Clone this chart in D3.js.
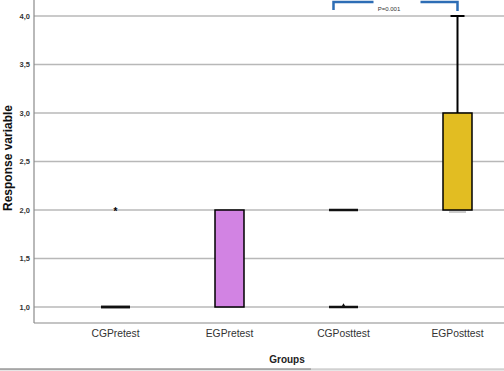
<!DOCTYPE html>
<html lang="en">
	<head>
		<meta charset="utf-8">
		<title>Boxplot groups</title>
		<script src="https://d3js.org/d3.v7.min.js"></script>
		<style>
			body { margin: 0; background: #fff; }
			svg { display: block; font-family: "Liberation Sans", Arial, sans-serif; }
		</style>
	</head>
	<body>
		<script type="text/javascript">

			// data
			var groups = ["CGPretest", "EGPretest", "CGPosttest", "EGPosttest"];
			var q1 = [1, 1, 1, 2];
			var median = [1, 1, 2, 2];
			var q3 = [1, 2, 2, 3];
			var whiskerHigh = [1, 2, 2, 4];
			var boxFill = [null, "#d283e3", null, "#e2bd22"];
			var extremes = [{g: "CGPretest", v: 2}];
			var outliers = [{g: "CGPosttest", v: 1}];
			var yTicks = [1.0, 1.5, 2.0, 2.5, 3.0, 3.5, 4.0];
			var pLabel = "P=0.001";

			var w = 504, h = 371;
			var left = 34, bottom = 323;

			var x = d3.scaleBand().domain(groups).range([58.5, 514.5]);
			var y = d3.scaleLinear().domain([1, 4]).range([307, 16]);
			var bw = 29;
			var cx = function(g) { return x(g) + x.bandwidth() / 2; };

			var svg = d3.select("body").append("svg").attr("width", w).attr("height", h);

			// grid lines
			svg.append("g").selectAll("line").data(yTicks).enter().append("line")
				.attr("x1", left).attr("x2", w)
				.attr("y1", function(d) { return y(d); })
				.attr("y2", function(d) { return y(d); })
				.attr("stroke", "#b8b8b8").attr("stroke-width", 1.5);

			// y axis
			var yAxis = d3.axisLeft(y).tickValues(yTicks).tickSize(0).tickPadding(4)
				.tickFormat(function(d) { return d3.format(".1f")(d).replace(".", ","); });
			var ya = svg.append("g").attr("transform", "translate(" + left + ",0)").call(yAxis);
			ya.select(".domain").remove();
			ya.selectAll("text").attr("font-size", 7.5).attr("font-weight", "bold")
				.attr("fill", "#333").attr("font-family", "'Liberation Sans Narrow', 'Liberation Sans', sans-serif");

			// x axis
			var xAxis = d3.axisBottom(x).tickSize(0).tickPadding(7);
			var xa = svg.append("g").attr("transform", "translate(0," + bottom + ")").call(xAxis);
			xa.select(".domain").remove();
			xa.selectAll("text").attr("font-size", 10.3).attr("fill", "#333");

			// frame lines
			svg.append("line").attr("x1", left).attr("x2", left).attr("y1", 0).attr("y2", bottom)
				.attr("stroke", "#8a8a8a").attr("stroke-width", 1.2);
			svg.append("line").attr("x1", left).attr("x2", w).attr("y1", bottom).attr("y2", bottom)
				.attr("stroke", "#8a8a8a").attr("stroke-width", 1.2);

			// titles
			svg.append("text").attr("transform", "translate(12,158) rotate(-90)")
				.attr("text-anchor", "middle").attr("font-size", 12).attr("font-weight", "bold")
				.attr("fill", "#111").text("Response variable");
			svg.append("text").attr("x", 287).attr("y", 363)
				.attr("text-anchor", "middle").attr("font-size", 10).attr("font-weight", "bold")
				.attr("fill", "#222").text("Groups");

			// bottom strip
			svg.append("rect").attr("x", 0).attr("y", 369).attr("width", w).attr("height", 2).attr("fill", "#e6e6e6");
			svg.append("line").attr("x1", 0).attr("x2", 311).attr("y1", 369).attr("y2", 369)
				.attr("stroke", "#666").attr("stroke-width", 1);
			svg.append("line").attr("x1", 311).attr("x2", w).attr("y1", 369).attr("y2", 369)
				.attr("stroke", "#bbb").attr("stroke-width", 1);

			// boxes
			groups.forEach(function(g, i) {
				var xc = cx(g);
				if (whiskerHigh[i] > q3[i]) {
					svg.append("line").attr("x1", xc).attr("x2", xc)
						.attr("y1", y(q3[i])).attr("y2", y(whiskerHigh[i]))
						.attr("stroke", "#000").attr("stroke-width", 2);
					svg.append("line").attr("x1", xc - 7).attr("x2", xc + 7)
						.attr("y1", y(whiskerHigh[i])).attr("y2", y(whiskerHigh[i]))
						.attr("stroke", "#000").attr("stroke-width", 2);
				}
				if (boxFill[i]) {
					svg.append("rect").attr("x", xc - bw / 2).attr("y", y(q3[i]))
						.attr("width", bw).attr("height", y(q1[i]) - y(q3[i]))
						.attr("fill", boxFill[i]).attr("stroke", "#000").attr("stroke-width", 1.5);
					if (median[i] === q1[i] && q1[i] > 1) {
						svg.append("line").attr("x1", xc - bw / 2 + 6).attr("x2", xc + bw / 2 - 6)
							.attr("y1", y(median[i]) + 2).attr("y2", y(median[i]) + 2)
							.attr("stroke", "#999").attr("stroke-width", 1);
					}
				} else {
					[q1[i], q3[i]].forEach(function(v) {
						svg.append("line").attr("x1", xc - bw / 2).attr("x2", xc + bw / 2)
							.attr("y1", y(v)).attr("y2", y(v))
							.attr("stroke", "#111").attr("stroke-width", 2.5);
					});
				}
			});

			// extreme values (asterisk) and outliers
			svg.selectAll("text.ext").data(extremes).enter().append("text").attr("class", "ext")
				.attr("x", function(d) { return cx(d.g); }).attr("y", function(d) { return y(d.v) + 5; })
				.attr("text-anchor", "middle").attr("font-size", 10).attr("font-weight", "bold")
				.text("*");
			svg.selectAll("path.out").data(outliers).enter().append("path").attr("class", "out")
				.attr("transform", function(d) { return "translate(" + cx(d.g) + "," + (y(d.v) - 1) + ")"; })
				.attr("d", d3.symbol().type(d3.symbolTriangle).size(10))
				.attr("fill", "#111");

			// significance bracket
			var bl = cx("CGPosttest") - 10, br = cx("EGPosttest");
			var blue = "#2d6db5";
			svg.append("path").attr("d", "M" + bl + ",10 V2 H" + (bl + 40))
				.attr("fill", "none").attr("stroke", blue).attr("stroke-width", 2.5);
			svg.append("path").attr("d", "M" + (br - 37) + ",2 H" + br + " V11")
				.attr("fill", "none").attr("stroke", blue).attr("stroke-width", 2.5);
			svg.append("text").attr("x", 389).attr("y", 11).attr("text-anchor", "middle")
				.attr("font-size", 6).attr("fill", "#333").text(pLabel);

		</script>
	</body>
</html>
